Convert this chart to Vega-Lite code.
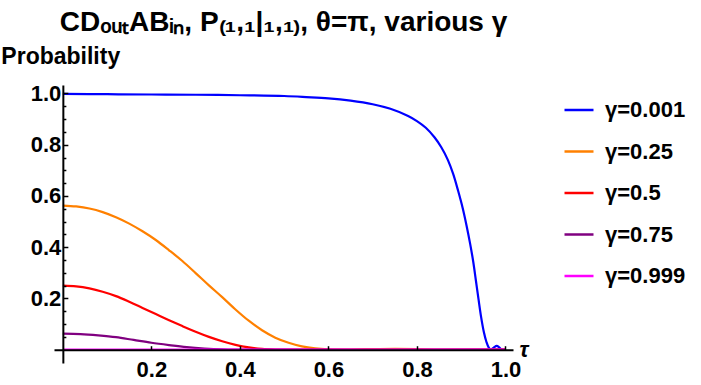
{
  "$schema": "https://vega.github.io/schema/vega-lite/v6.json",
  "width": 459,
  "height": 278,
  "autosize": {"type": "none"},
  "padding": {"left": 54, "top": 85, "right": 188, "bottom": 22},
  "background": "white",
  "config": {"view": {"stroke": null}, "font": "Liberation Sans"},
  "title": {
    "text": "CDₒᵤₜABᵢₙ, P₍₁,₁|₁,₁₎, θ=π, various γ",
    "font": "Liberation Sans",
    "fontSize": 28,
    "fontWeight": "bold",
    "color": "black",
    "anchor": "middle",
    "offset": 8
  },
  "data": {
    "values": [
      {"g": "γ=0.001", "t": 0, "p": 0.998},
      {"g": "γ=0.001", "t": 0.1, "p": 0.997},
      {"g": "γ=0.001", "t": 0.2, "p": 0.996},
      {"g": "γ=0.001", "t": 0.3, "p": 0.995},
      {"g": "γ=0.001", "t": 0.4, "p": 0.993},
      {"g": "γ=0.001", "t": 0.5, "p": 0.99},
      {"g": "γ=0.001", "t": 0.55, "p": 0.986},
      {"g": "γ=0.001", "t": 0.6, "p": 0.981},
      {"g": "γ=0.001", "t": 0.65, "p": 0.972},
      {"g": "γ=0.001", "t": 0.7, "p": 0.958},
      {"g": "γ=0.001", "t": 0.74, "p": 0.94},
      {"g": "γ=0.001", "t": 0.78, "p": 0.912},
      {"g": "γ=0.001", "t": 0.8, "p": 0.892},
      {"g": "γ=0.001", "t": 0.82, "p": 0.866},
      {"g": "γ=0.001", "t": 0.84, "p": 0.828},
      {"g": "γ=0.001", "t": 0.855, "p": 0.79},
      {"g": "γ=0.001", "t": 0.87, "p": 0.74},
      {"g": "γ=0.001", "t": 0.882, "p": 0.685},
      {"g": "γ=0.001", "t": 0.893, "p": 0.62},
      {"g": "γ=0.001", "t": 0.903, "p": 0.555},
      {"g": "γ=0.001", "t": 0.912, "p": 0.485},
      {"g": "γ=0.001", "t": 0.92, "p": 0.415},
      {"g": "γ=0.001", "t": 0.927, "p": 0.345},
      {"g": "γ=0.001", "t": 0.933, "p": 0.272},
      {"g": "γ=0.001", "t": 0.939, "p": 0.198},
      {"g": "γ=0.001", "t": 0.945, "p": 0.127},
      {"g": "γ=0.001", "t": 0.951, "p": 0.07},
      {"g": "γ=0.001", "t": 0.957, "p": 0.03},
      {"g": "γ=0.001", "t": 0.962, "p": 0.009},
      {"g": "γ=0.001", "t": 0.967, "p": 0.0},
      {"g": "γ=0.001", "t": 0.974, "p": 0.009},
      {"g": "γ=0.001", "t": 0.98, "p": 0.015},
      {"g": "γ=0.001", "t": 0.986, "p": 0.009},
      {"g": "γ=0.001", "t": 0.991, "p": 0.0},
      {"g": "γ=0.001", "t": 1.0, "p": 0.0},

      {"g": "γ=0.25", "t": 0, "p": 0.5625},
      {"g": "γ=0.25", "t": 0.03, "p": 0.559},
      {"g": "γ=0.25", "t": 0.06, "p": 0.551},
      {"g": "γ=0.25", "t": 0.09, "p": 0.537},
      {"g": "γ=0.25", "t": 0.12, "p": 0.517},
      {"g": "γ=0.25", "t": 0.15, "p": 0.492},
      {"g": "γ=0.25", "t": 0.18, "p": 0.462},
      {"g": "γ=0.25", "t": 0.21, "p": 0.428},
      {"g": "γ=0.25", "t": 0.24, "p": 0.388},
      {"g": "γ=0.25", "t": 0.27, "p": 0.346},
      {"g": "γ=0.25", "t": 0.3, "p": 0.299},
      {"g": "γ=0.25", "t": 0.33, "p": 0.251},
      {"g": "γ=0.25", "t": 0.36, "p": 0.205},
      {"g": "γ=0.25", "t": 0.39, "p": 0.157},
      {"g": "γ=0.25", "t": 0.42, "p": 0.113},
      {"g": "γ=0.25", "t": 0.45, "p": 0.076},
      {"g": "γ=0.25", "t": 0.48, "p": 0.047},
      {"g": "γ=0.25", "t": 0.51, "p": 0.027},
      {"g": "γ=0.25", "t": 0.54, "p": 0.013},
      {"g": "γ=0.25", "t": 0.57, "p": 0.005},
      {"g": "γ=0.25", "t": 0.6, "p": 0.001},
      {"g": "γ=0.25", "t": 0.62, "p": 0.0},
      {"g": "γ=0.25", "t": 0.65, "p": 0.0005},
      {"g": "γ=0.25", "t": 0.7, "p": 0.0025},
      {"g": "γ=0.25", "t": 0.75, "p": 0.0035},
      {"g": "γ=0.25", "t": 0.8, "p": 0.0025},
      {"g": "γ=0.25", "t": 0.84, "p": 0.0005},
      {"g": "γ=0.25", "t": 0.87, "p": 0.0},
      {"g": "γ=0.25", "t": 1.0, "p": 0.0},

      {"g": "γ=0.5", "t": 0, "p": 0.25},
      {"g": "γ=0.5", "t": 0.03, "p": 0.247},
      {"g": "γ=0.5", "t": 0.06, "p": 0.239},
      {"g": "γ=0.5", "t": 0.09, "p": 0.226},
      {"g": "γ=0.5", "t": 0.12, "p": 0.209},
      {"g": "γ=0.5", "t": 0.15, "p": 0.187},
      {"g": "γ=0.5", "t": 0.18, "p": 0.163},
      {"g": "γ=0.5", "t": 0.21, "p": 0.139},
      {"g": "γ=0.5", "t": 0.24, "p": 0.115},
      {"g": "γ=0.5", "t": 0.27, "p": 0.092},
      {"g": "γ=0.5", "t": 0.3, "p": 0.07},
      {"g": "γ=0.5", "t": 0.33, "p": 0.05},
      {"g": "γ=0.5", "t": 0.36, "p": 0.033},
      {"g": "γ=0.5", "t": 0.39, "p": 0.019},
      {"g": "γ=0.5", "t": 0.42, "p": 0.009},
      {"g": "γ=0.5", "t": 0.45, "p": 0.003},
      {"g": "γ=0.5", "t": 0.48, "p": 0.0005},
      {"g": "γ=0.5", "t": 0.5, "p": 0.0},
      {"g": "γ=0.5", "t": 1.0, "p": 0.0},

      {"g": "γ=0.75", "t": 0, "p": 0.0625},
      {"g": "γ=0.75", "t": 0.04, "p": 0.061},
      {"g": "γ=0.75", "t": 0.08, "p": 0.056},
      {"g": "γ=0.75", "t": 0.12, "p": 0.049},
      {"g": "γ=0.75", "t": 0.16, "p": 0.038},
      {"g": "γ=0.75", "t": 0.2, "p": 0.027},
      {"g": "γ=0.75", "t": 0.24, "p": 0.018},
      {"g": "γ=0.75", "t": 0.28, "p": 0.01},
      {"g": "γ=0.75", "t": 0.32, "p": 0.0045},
      {"g": "γ=0.75", "t": 0.36, "p": 0.001},
      {"g": "γ=0.75", "t": 0.39, "p": 0.0},
      {"g": "γ=0.75", "t": 1.0, "p": 0.0},

      {"g": "γ=0.999", "t": 0, "p": 0.0},
      {"g": "γ=0.999", "t": 0.5, "p": 0.0},
      {"g": "γ=0.999", "t": 1.0, "p": 0.0}
    ]
  },
  "mark": {"type": "line", "strokeWidth": 2.2, "interpolate": "catmull-rom"},
  "encoding": {
    "x": {
      "field": "t",
      "type": "quantitative",
      "scale": {"domain": [-0.02, 1.017], "nice": false, "zero": false},
      "axis": {
        "title": "τ",
        "values": [0.2, 0.4, 0.6, 0.8, 1.0],
        "format": ".1f",
        "offset": -13.3,
        "grid": false,
        "zindex": 1,
        "domainColor": "black",
        "domainWidth": 2,
        "tickColor": "black",
        "tickSize": -4,
        "tickWidth": 1.5,
        "labelFont": "Liberation Sans",
        "labelFontSize": 22,
        "labelFontWeight": "bold",
        "labelColor": "black",
        "labelPadding": 14,
        "labelFlush": false,
        "labelOverlap": false,
        "titleFont": "Liberation Sans",
        "titleFontSize": 22,
        "titleFontWeight": "bold",
        "titleFontStyle": "italic",
        "titleColor": "black",
        "titleAngle": 0,
        "titleAlign": "left",
        "titleBaseline": "alphabetic",
        "titleX": 465,
        "titleY": 7
      }
    },
    "y": {
      "field": "p",
      "type": "quantitative",
      "scale": {"domain": [-0.052, 1.033], "nice": false, "zero": false},
      "axis": {
        "title": "Probability",
        "values": [0.05, 0.1, 0.15, 0.2, 0.25, 0.3, 0.35, 0.4, 0.45, 0.5, 0.55, 0.6, 0.65, 0.7, 0.75, 0.8, 0.85, 0.9, 0.95, 1.0],
        "labelExpr": "abs(datum.value*5 - round(datum.value*5)) < 0.001 ? format(datum.value, '.1f') : ''",
        "offset": -8.85,
        "grid": false,
        "zindex": 1,
        "domainColor": "black",
        "domainWidth": 2,
        "tickColor": "black",
        "tickSize": {"condition": {"test": "abs(datum.value*5 - round(datum.value*5)) < 0.001", "value": -5}, "value": -3},
        "tickWidth": 1.5,
        "labelFont": "Liberation Sans",
        "labelFontSize": 22,
        "labelFontWeight": "bold",
        "labelColor": "black",
        "labelPadding": 7,
        "labelFlush": false,
        "labelOverlap": false,
        "titleFont": "Liberation Sans",
        "titleFontSize": 23,
        "titleFontWeight": "bold",
        "titleColor": "black",
        "titleAngle": 0,
        "titleAlign": "left",
        "titleBaseline": "alphabetic",
        "titleX": -62,
        "titleY": -22
      }
    },
    "color": {
      "field": "g",
      "type": "nominal",
      "scale": {
        "domain": ["γ=0.001", "γ=0.25", "γ=0.5", "γ=0.75", "γ=0.999"],
        "range": ["#0000FF", "#FF8000", "#FF0000", "#800080", "#FF00FF"]
      },
      "legend": {
        "orient": "none",
        "legendX": 509,
        "legendY": 9,
        "title": null,
        "padding": 0,
        "symbolType": "stroke",
        "symbolSize": 841,
        "symbolStrokeWidth": 2.5,
        "labelFont": "Liberation Sans",
        "labelFontSize": 22,
        "labelFontWeight": "bold",
        "labelColor": "black",
        "labelOffset": 10,
        "labelLimit": 200,
        "rowPadding": 14.5
      }
    }
  }
}
